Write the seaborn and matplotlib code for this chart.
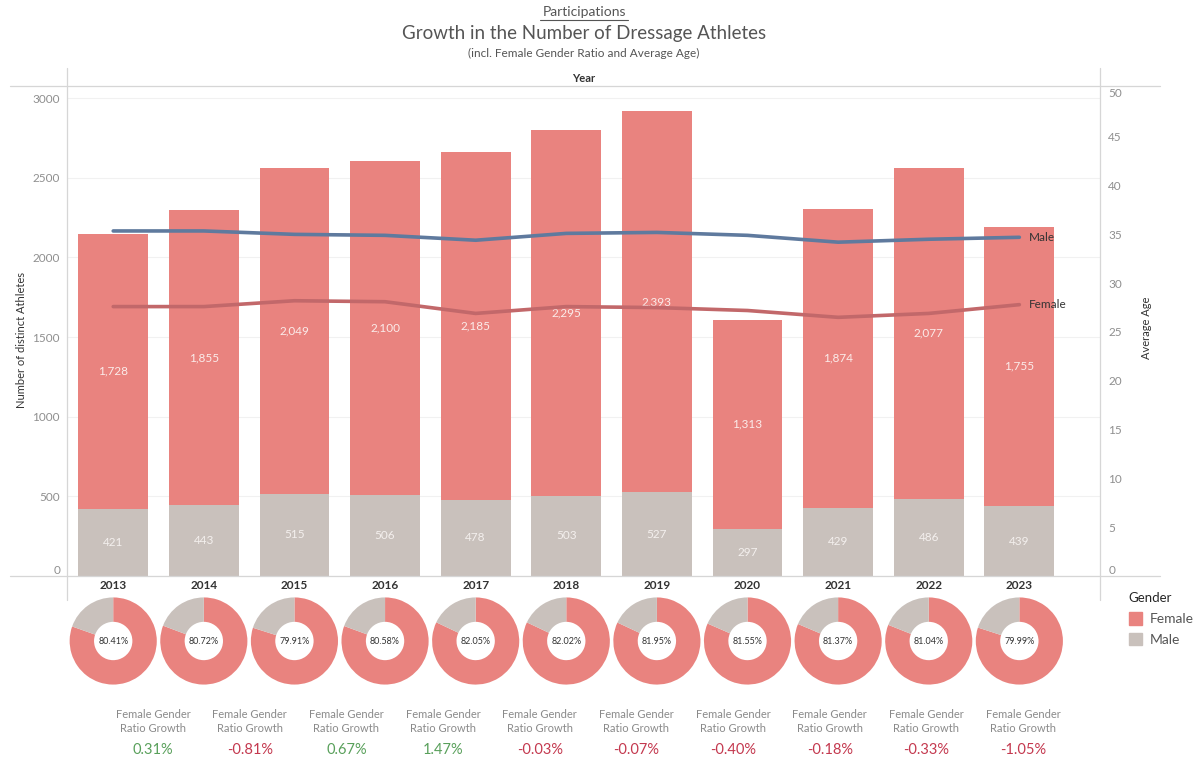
import numpy as np
import pandas as pd
import matplotlib
matplotlib.use("Agg")
import matplotlib.pyplot as plt
from matplotlib.lines import Line2D
from matplotlib.patches import Patch
from matplotlib import transforms
import seaborn as sns

# data
years = [2013, 2014, 2015, 2016, 2017, 2018, 2019, 2020, 2021, 2022, 2023]
female = [1728, 1855, 2049, 2100, 2185, 2295, 2393, 1313, 1874, 2077, 1755]
male = [421, 443, 515, 506, 478, 503, 527, 297, 429, 486, 439]
age_male = [35.35, 35.35, 35.0, 34.9, 34.4, 35.1, 35.2, 34.9, 34.2, 34.5, 34.7]
age_female = [27.6, 27.6, 28.2, 28.1, 26.9, 27.6, 27.5, 27.2, 26.5, 26.9, 27.8]
female_ratio = [80.41, 80.72, 79.91, 80.58, 82.05, 82.02, 81.95, 81.55, 81.37, 81.04, 79.99]
ratio_growth = [0.31, -0.81, 0.67, 1.47, -0.03, -0.07, -0.40, -0.18, -0.33, -1.05]

FEMALE_C = "#E9837F"
MALE_C = "#C9C1BC"
MALE_LINE = "#5F7A9E"
FEMALE_LINE = "#C2686A"
FRAME = "#D6D6D6"

sns.set_theme(style="white")
plt.rcParams["font.family"] = ["Lato", "DejaVu Sans"]

W, H = 1199, 763
fig = plt.figure(figsize=(W / 100, H / 100), dpi=100)


def fx(px):
    return px / W


def fy(py):
    return 1 - py / H


# main bar chart
ax = fig.add_axes([fx(67), fy(576), fx(1100) - fx(67), fy(86) - fy(576)])
bars = pd.DataFrame({
    "year": [str(y) for y in years],
    "total": np.add(female, male),
    "female": female,
    "male": male,
})
sns.barplot(data=bars, x="year", y="total", color=FEMALE_C, width=0.77,
            saturation=1, linewidth=0, ax=ax, zorder=2)
sns.barplot(data=bars, x="year", y="male", color=MALE_C, width=0.77,
            saturation=1, linewidth=0, ax=ax, zorder=2)
ax.set_xlim(-0.51, 10.89)
ax.set_ylim(0, 3076)
ax.set_yticks(range(0, 3001, 500))
ax.yaxis.grid(True, color="#F1F1F1", lw=0.8)
ax.set_axisbelow(True)
for s in ax.spines.values():
    s.set_visible(False)
ax.tick_params(axis="y", length=0, labelsize=8.5, labelcolor="#8F8F8F", pad=5)
ax.tick_params(axis="x", length=0, labelsize=8.5, labelcolor="#333333", pad=3)
for t in ax.get_xticklabels():
    t.set_fontweight("bold")
ax.get_yticklabels()[0].set_va("bottom")
ax.set_xlabel("")
ax.set_ylabel("")

for i in range(len(years)):
    ax.text(i, male[i] + female[i] / 2, f"{female[i]:,}", ha="center", va="center",
            fontsize=8.5, color="#FBECEA", zorder=3)
    ax.text(i, male[i] / 2, f"{male[i]:,}", ha="center", va="center",
            fontsize=8.5, color="#F4F0EE", zorder=3)

# average age lines
ax2 = ax.twinx()
ages = pd.DataFrame({
    "pos": list(range(len(years))) * 2,
    "age": age_male + age_female,
    "gender": ["Male"] * len(years) + ["Female"] * len(years),
})
sns.lineplot(data=ages, x="pos", y="age", hue="gender",
             palette={"Male": MALE_LINE, "Female": FEMALE_LINE},
             lw=2.6, legend=False, ax=ax2, zorder=4)
ax2.set_xlim(-0.51, 10.89)
ax2.set_ylim(0, 50.2)
ax2.set_yticks(range(0, 51, 5))
for s in ax2.spines.values():
    s.set_visible(False)
ax2.tick_params(axis="y", length=0, labelsize=8.5, labelcolor="#8F8F8F", pad=6)
ax2.get_yticklabels()[0].set_va("bottom")
ax2.get_yticklabels()[-1].set_va("top")
ax2.set_xlabel("")
ax2.set_ylabel("")
last = len(years) - 1
ax2.text(last + 0.1, age_male[-1], "Male", ha="left", va="center", fontsize=8.5, color="#333333")
ax2.text(last + 0.1, age_female[-1], "Female", ha="left", va="center", fontsize=8.5, color="#333333")

# axis titles and frame lines
fig.text(fx(22), fy(340), "Number of distinct Athletes", rotation=90, ha="center", va="center",
         fontsize=8, color="#333333")
fig.text(fx(1146), fy(328), "Average Age", rotation=90, ha="center", va="center",
         fontsize=8, color="#333333")
fig.text(fx(584), fy(78), "Year", ha="center", va="center", fontsize=8, fontweight="bold",
         color="#333333")
for y in (86, 576):
    fig.add_artist(Line2D([fx(10), fx(1160)], [fy(y), fy(y)], color=FRAME, lw=0.9))
for x in (67, 1100):
    fig.add_artist(Line2D([fx(x), fx(x)], [fy(68), fy(600)], color=FRAME, lw=0.9))

# titles
fig.text(fx(584), fy(12), "Participations", ha="center", va="center", fontsize=10, color="#555555")
fig.add_artist(Line2D([fx(540), fx(628)], [fy(20), fy(20)], color="#555555", lw=0.8))
fig.text(fx(584), fy(34), "Growth in the Number of Dressage Athletes", ha="center", va="center",
         fontsize=13.5, color="#555555")
fig.text(fx(584), fy(53), "(incl. Female Gender Ratio and Average Age)", ha="center", va="center",
         fontsize=8.5, color="#555555")

# donuts, one per year, under each bar
r = 44
for i in range(len(years)):
    cx = ax.transData.transform((i, 0))[0]
    dax = fig.add_axes([fx(cx - r), fy(641 + r), fx(2 * r), fy(641 - r) - fy(641 + r)])
    dax.pie([female[i], male[i]], colors=[FEMALE_C, MALE_C], startangle=90, counterclock=False,
            wedgeprops=dict(width=0.56, linewidth=0))
    dax.set_xlim(-1.01, 1.01)
    dax.set_ylim(-1.01, 1.01)
    dax.text(0, 0, f"{female_ratio[i]:.2f}%", ha="center", va="center", fontsize=6.5, color="#333333")

# ratio growth texts
gax = fig.add_axes([fx(104.7), fy(760), fx(1071.3) - fx(104.7), fy(705) - fy(760)])
gax.set_xlim(-0.5, len(ratio_growth) - 0.5)
gax.axis("off")
blend = transforms.blended_transform_factory(gax.transData, fig.transFigure)
for j, g in enumerate(ratio_growth):
    gax.text(j, fy(715), "Female Gender", transform=blend, ha="center", va="center",
             fontsize=8, color="#8A8A8A")
    gax.text(j, fy(729), "Ratio Growth", transform=blend, ha="center", va="center",
             fontsize=8, color="#8A8A8A")
    gax.text(j, fy(750), f"{g:.2f}%", transform=blend, ha="center", va="center",
             fontsize=10.5, color="#59A05B" if g >= 0 else "#C4394F")

# legend
handles = [Patch(color=FEMALE_C), Patch(color=MALE_C)]
fig.legend(handles, ["Female", "Male"], loc="upper left", bbox_to_anchor=(fx(1116), fy(580)),
           frameon=False, title="Gender", fontsize=10, title_fontsize=9.5, alignment="left",
           handlelength=1.0, handleheight=1.0, handletextpad=0.5, labelspacing=0.55,
           labelcolor="#555555")

fig.savefig("out.png", dpi=100)
